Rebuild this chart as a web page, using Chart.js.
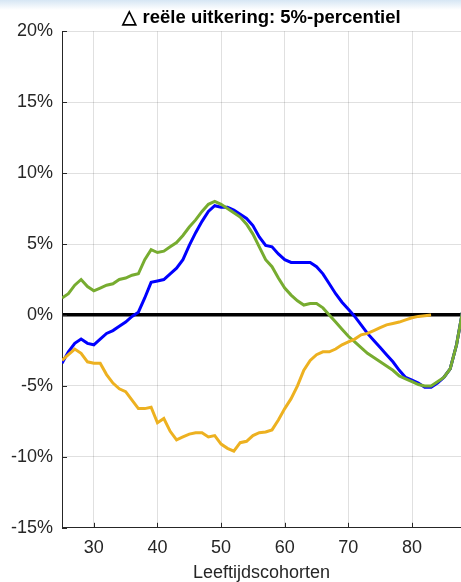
<!DOCTYPE html>
<html>
<head>
<meta charset="utf-8">
<script src="https://cdn.jsdelivr.net/npm/chart.js@4"></script>
<style>
  html, body { margin: 0; padding: 0; background: #fff; overflow: hidden; }
  #topband { position: absolute; left: 0; top: 0; width: 461px; height: 10px;
    background: linear-gradient(to bottom, #d6e6f4, #ffffff); }
  #wrap { position: absolute; left: 0; top: 0; width: 461px; height: 582px; }
</style>
</head>
<body>
<div id="topband"></div>
<div id="wrap"><canvas id="c" width="461" height="582"></canvas></div>
<script>
const titleText = "\u25B3 re\u00EBle uitkering: 5%-percentiel";
const xTitle = "Leeftijdscohorten";
const xTicks = [30, 40, 50, 60, 70, 80];
const yTicks = [-15, -10, -5, 0, 5, 10, 15, 20];

const ages = [25,26,27,28,29,30,31,32,33,34,35,36,37,38,39,40,41,42,43,44,45,46,47,48,49,50,51,52,53,54,55,56,57,58,59,60,61,62,63,64,65,66,67,68,69,70,71,72,73,74,75,76,77,78,79,80,81,82,83,84,85,86,87,88];

const blueVals = [-3.4,-2.6,-2.0,-1.7,-2.0,-2.1,-1.7,-1.3,-1.1,-0.8,-0.5,-0.1,0.2,1.2,2.3,2.4,2.5,2.9,3.3,3.9,4.9,5.8,6.6,7.3,7.7,7.6,7.6,7.4,7.1,6.8,6.3,5.5,4.9,4.8,4.3,3.9,3.7,3.7,3.7,3.7,3.4,2.9,2.2,1.5,0.9,0.4,-0.1,-0.7,-1.3,-1.8,-2.3,-2.8,-3.3,-3.9,-4.4,-4.6,-4.8,-5.1,-5.1,-4.8,-4.4,-3.8,-2.1,0.4];

const greenVals = [1.2,1.5,2.1,2.5,2.0,1.7,1.9,2.1,2.2,2.5,2.6,2.8,2.9,3.9,4.6,4.4,4.5,4.8,5.1,5.6,6.2,6.7,7.3,7.8,8.0,7.8,7.5,7.2,6.9,6.4,5.7,4.8,3.9,3.4,2.6,1.9,1.4,1.0,0.7,0.8,0.8,0.5,0.0,-0.5,-1.0,-1.5,-1.9,-2.3,-2.7,-3.0,-3.3,-3.6,-3.9,-4.3,-4.5,-4.7,-4.9,-5.0,-5.0,-4.7,-4.4,-3.8,-2.1,0.4];

const orangeVals = [-3.2,-2.8,-2.4,-2.7,-3.3,-3.4,-3.4,-4.2,-4.8,-5.2,-5.4,-6.0,-6.6,-6.6,-6.5,-7.6,-7.3,-8.2,-8.8,-8.6,-8.4,-8.3,-8.3,-8.6,-8.5,-9.1,-9.4,-9.6,-9.0,-8.9,-8.5,-8.3,-8.25,-8.1,-7.4,-6.6,-5.9,-5.0,-3.9,-3.2,-2.8,-2.6,-2.6,-2.4,-2.1,-1.9,-1.7,-1.4,-1.3,-1.1,-0.9,-0.7,-0.6,-0.5,-0.35,-0.2,-0.1,-0.05,0.0];

const pts = (vals) => vals.map((v, i) => ({ x: ages[i], y: v }));

const innerTicks = {
  id: 'innerTicks',
  afterDraw(chart) {
    const ctx = chart.ctx, a = chart.chartArea;
    const xs = chart.scales.x, ys = chart.scales.y;
    ctx.save();
    ctx.strokeStyle = '#262626';
    ctx.lineWidth = 1;
    ctx.beginPath();
    yTicks.forEach(v => {
      const p = Math.round(ys.getPixelForValue(v)) + 0.5;
      ctx.moveTo(a.left, p); ctx.lineTo(a.left + 5, p);
    });
    xTicks.forEach(v => {
      const p = Math.round(xs.getPixelForValue(v)) + 0.5;
      ctx.moveTo(p, a.bottom); ctx.lineTo(p, a.bottom - 5);
    });
    ctx.stroke();
    ctx.restore();
  }
};

const lineDs = (label, vals, color) => ({
  label, data: pts(vals), borderColor: color, backgroundColor: color,
  borderWidth: 3, pointRadius: 0, tension: 0, fill: false
});

const FONT = 'Liberation Sans, Arial, sans-serif';

new Chart(document.getElementById('c'), {
  type: 'line',
  data: {
    datasets: [
      lineDs('orange', orangeVals, '#EDB120'),
      lineDs('green', greenVals, '#77AC30'),
      lineDs('blue', blueVals, '#0000FF'),
      lineDs('green2', greenVals.map((v, i) => i >= 60 ? v : null), '#77AC30')
    ]
  },
  options: {
    responsive: false,
    animation: false,
    layout: { padding: { left: 2, right: 0, top: 7, bottom: 0 } },
    plugins: {
      legend: { display: false },
      tooltip: { enabled: false },
      title: {
        display: true, text: titleText, fullSize: false,
        color: '#000', font: { family: FONT, size: 18.5, weight: 'bold' },
        padding: { top: 0, bottom: 2 }
      }
    },
    scales: {
      x: {
        type: 'linear', min: 25, max: 87.7,
        afterBuildTicks: (s) => { s.ticks = xTicks.map(v => ({ value: v })); },
        ticks: { color: '#262626', padding: 9, maxRotation: 0,
          font: { family: FONT, size: 18 } },
        grid: { color: 'rgba(0,0,0,0.12)', drawTicks: false, lineWidth: 1 },
        border: { display: true, color: '#262626', width: 1 },
        title: { display: true, text: xTitle, color: '#262626', padding: { top: -5, bottom: -2 },
          font: { family: FONT, size: 18 } }
      },
      y: {
        type: 'linear', min: -15, max: 20,
        afterBuildTicks: (s) => { s.ticks = yTicks.map(v => ({ value: v })); },
        ticks: { color: '#262626', padding: 9, callback: (v) => v + '%',
          font: { family: FONT, size: 18 } },
        grid: {
          drawTicks: false,
          color: (c) => (c.tick && c.tick.value === 0) ? '#000' : 'rgba(0,0,0,0.12)',
          lineWidth: (c) => (c.tick && c.tick.value === 0) ? 3.5 : 1
        },
        border: { display: true, color: '#262626', width: 1 }
      }
    }
  },
  plugins: [innerTicks]
});
</script>
</body>
</html>
